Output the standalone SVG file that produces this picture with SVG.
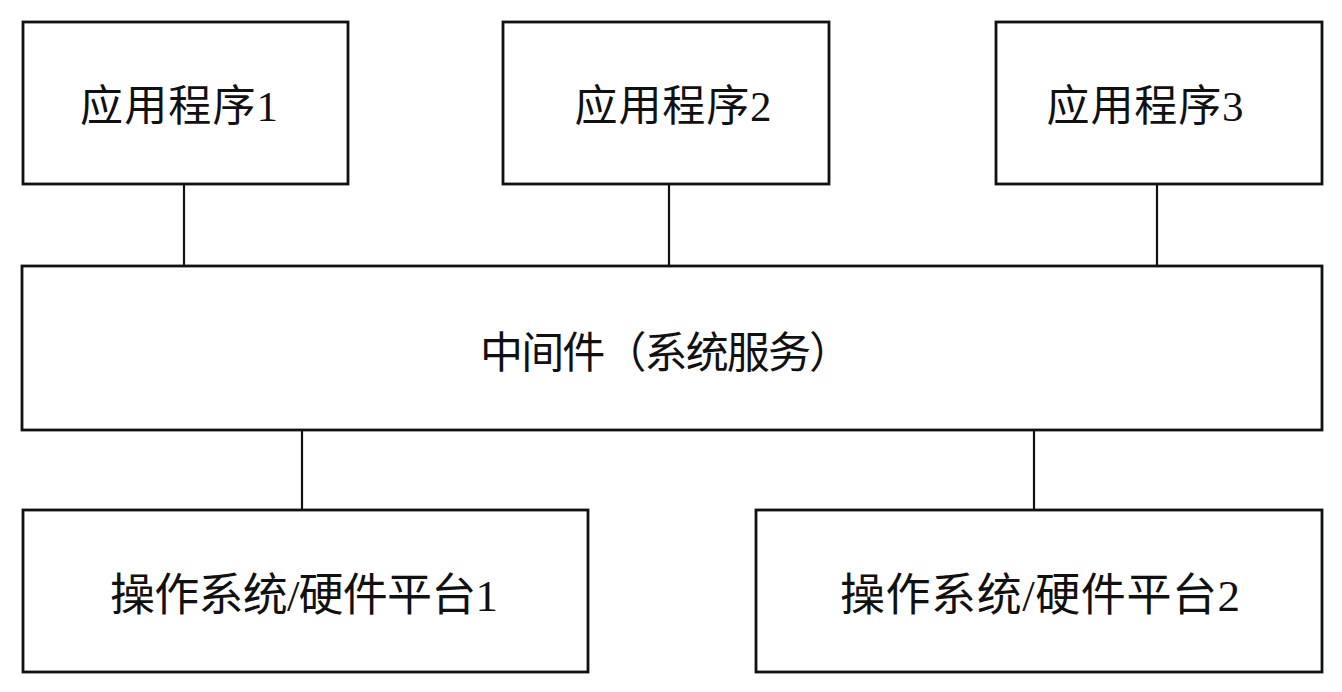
<svg xmlns="http://www.w3.org/2000/svg" width="1342" height="692" viewBox="0 0 1342 692">
<style>
.box{fill:#fff;stroke:#111;stroke-width:2.8}
.t{font-family:"Liberation Serif","Noto Sans CJK SC",serif;font-size:43px;fill:#111;text-anchor:middle}
.b{font-size:45px}
.c{stroke:#111;stroke-width:2.2;fill:none}
</style>
<rect width="1342" height="692" fill="#fff"/>
<g id="connectors">
<line class="c" x1="184" y1="184" x2="184" y2="266"/>
<line class="c" x1="669" y1="184" x2="669" y2="266"/>
<line class="c" x1="1157" y1="184" x2="1157" y2="266"/>
<line class="c" x1="302" y1="430" x2="302" y2="510"/>
<line class="c" x1="1034" y1="430" x2="1034" y2="510"/>
</g>
<g id="app1"><rect class="box" x="23" y="22" width="325" height="162"/><text class="t" x="179" y="121" textLength="198">应用程序1</text></g>
<g id="app2"><rect class="box" x="503" y="22" width="326" height="162"/><text class="t" x="673" y="121" textLength="197">应用程序2</text></g>
<g id="app3"><rect class="box" x="996" y="22" width="326" height="162"/><text class="t" x="1145" y="121" textLength="197">应用程序3</text></g>
<g id="middleware"><rect class="box" x="22" y="266" width="1300" height="164"/><text class="t" x="666" y="368" textLength="372">中间件（系统服务）</text></g>
<g id="os1"><rect class="box" x="23" y="510" width="565" height="162"/><text class="t b" x="304" y="611" textLength="388">操作系统/硬件平台1</text></g>
<g id="os2"><rect class="box" x="756" y="510" width="566" height="162"/><text class="t b" x="1040" y="611" textLength="400">操作系统/硬件平台2</text></g>
</svg>
